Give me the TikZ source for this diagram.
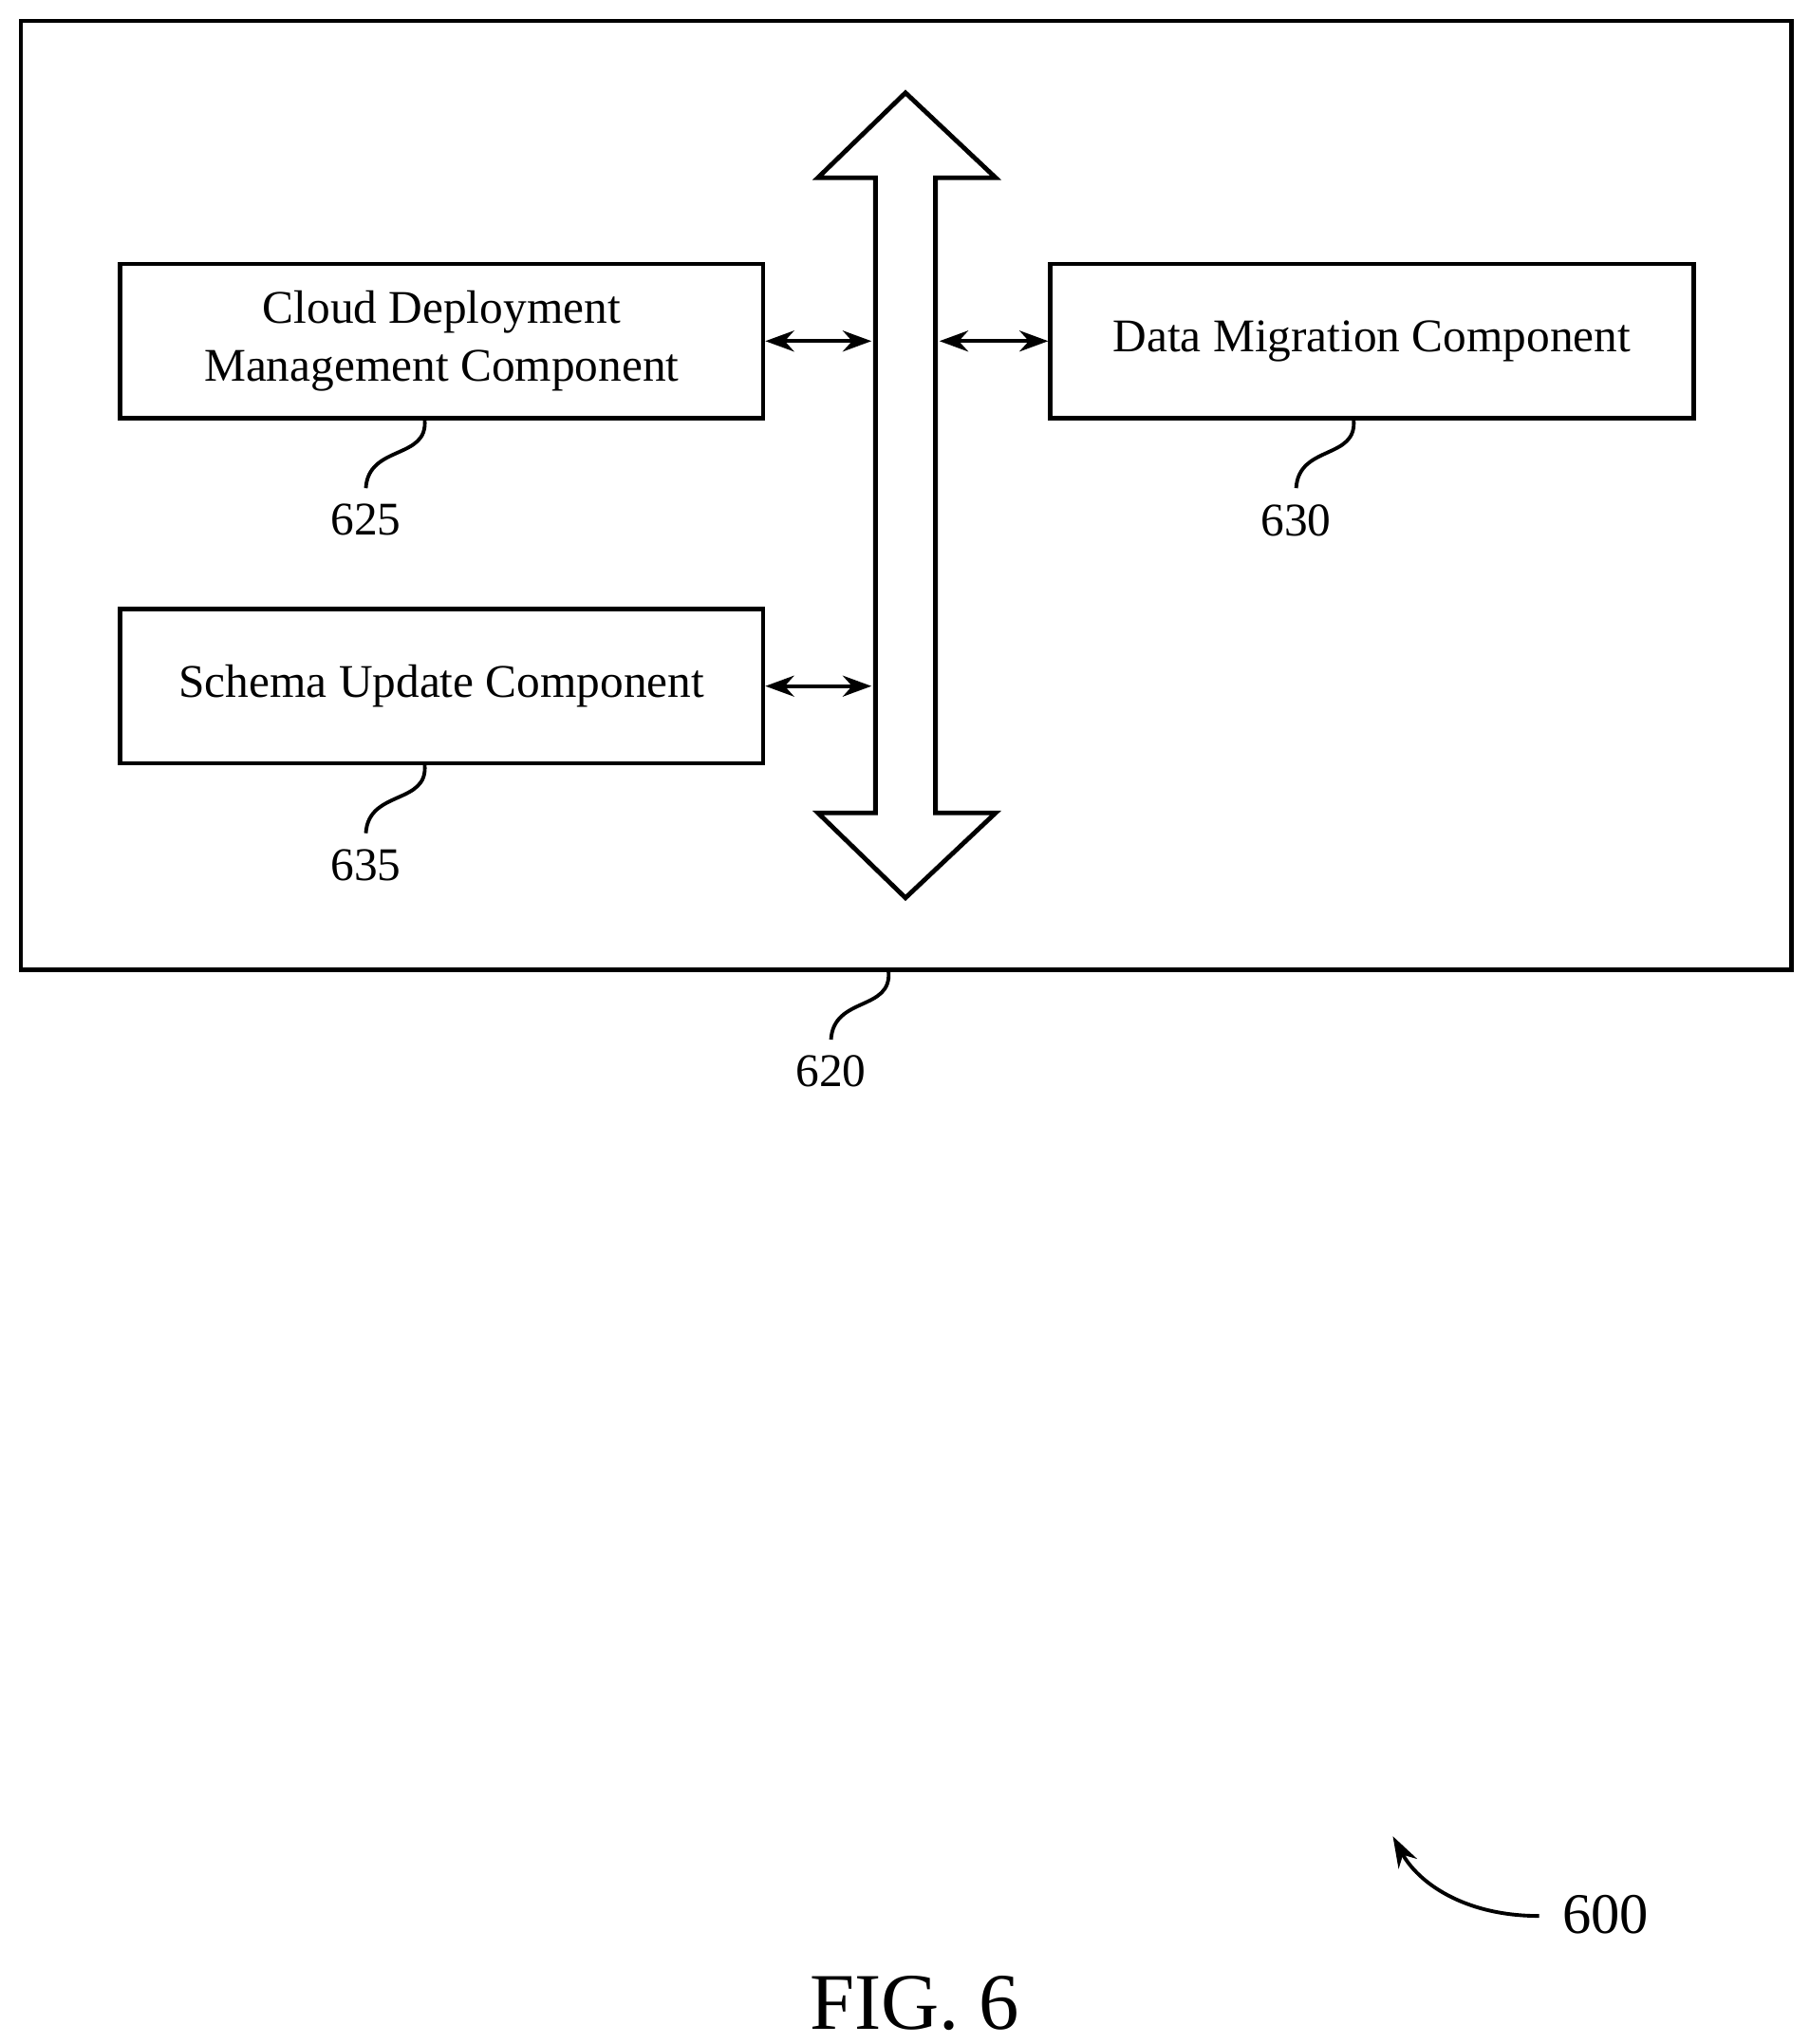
\documentclass[tikz,border=0pt]{standalone}
\usepackage{fontspec}
\setmainfont{Liberation Serif}
\usetikzlibrary{positioning,arrows.meta}
\begin{document}
\begin{tikzpicture}[x=0.1mm,y=-0.1mm,
    comp/.style={draw,line width=1pt,minimum width=49.2mm,minimum height=11.8mm,align=center,font=\fontsize{10.2}{12.5}\selectfont},
    link/.style={{Stealth[length=2.2mm,width=1.6mm]}-{Stealth[length=2.2mm,width=1.6mm]},line width=0.8pt},
    lead/.style={line width=0.8pt},
    num/.style={font=\fontsize{10.2}{12.5}\selectfont}]
    \useasboundingbox (0,0) rectangle (1385,1564);

    % Outer frame
    \draw[line width=1pt] (16,16) rectangle (1371,742);

    % Components
    \node[comp] (cdm) at (338,261) {Cloud Deployment\\Management Component};
    \node[comp] (dm) at (1050,261) {Data Migration Component};
    \node[comp] (su) at (338,525) {Schema Update Component};

    % Bus
    \draw[line width=1pt] (670,136) -- (626,136) -- (693,71) -- (762,136) -- (716,136)
        -- (716,622) -- (762,622) -- (693,687) -- (626,622) -- (670,622) -- cycle;
    \coordinate (busL1) at (667,261);
    \coordinate (busR1) at (719,261);
    \coordinate (busL2) at (667,525);

    % Links
    \draw[link] (cdm.east) -- (busL1);
    \draw[link] (busR1) -- (dm.west);
    \draw[link] (su.east) -- (busL2);

    % Reference numerals
    \node[num] (n625) at (280,398) {625};
    \draw[lead] (325,321) .. controls (328,352) and (282,340) .. (n625.north);
    \node[num] (n630) at (992,398) {630};
    \draw[lead] (1036,321) .. controls (1039,352) and (994,340) .. (n630.north);
    \node[num] (n635) at (280,662) {635};
    \draw[lead] (325,585) .. controls (328,616) and (282,604) .. (n635.north);
    \node[num] (n620) at (636,820) {620};
    \draw[lead] (680,743) .. controls (683,774) and (638,762) .. (n620.north);

    \node[num,font=\fontsize{12.5}{15}\selectfont] (n600) at (1229,1465) {600};
    \draw[lead,-{Stealth[length=2.4mm,width=1.6mm]}] (1178,1466) .. controls (1120,1466) and (1085,1440) .. (1066,1405);

    \node[font=\fontsize{17.5}{20}\selectfont] (fig) at (700,1533) {FIG. 6};
\end{tikzpicture}
\end{document}
